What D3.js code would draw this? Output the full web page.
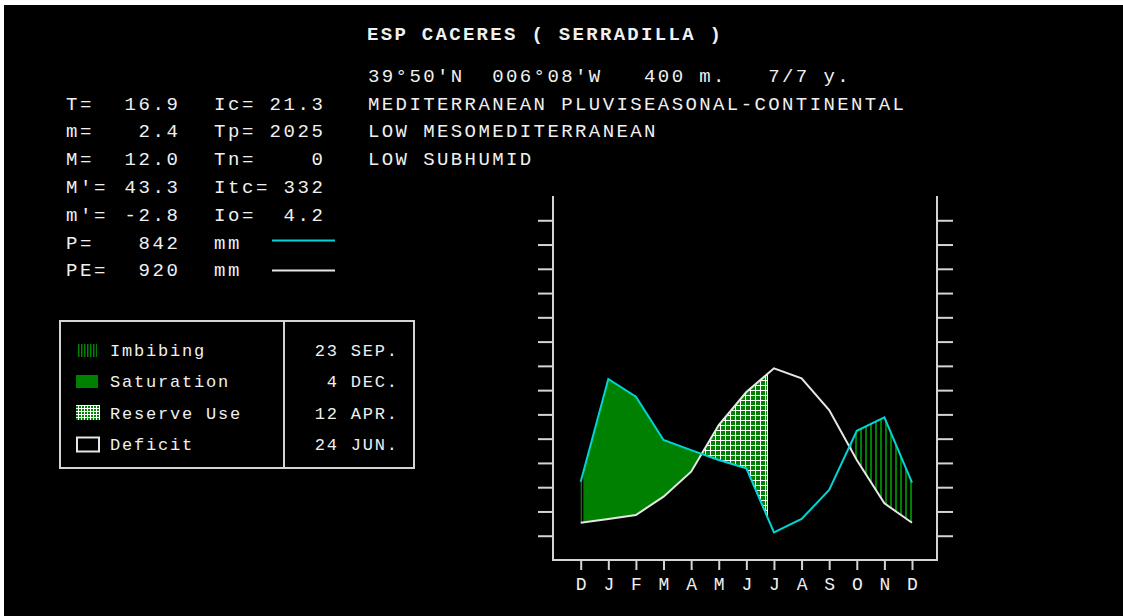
<!DOCTYPE html>
<html><head><meta charset="utf-8">
<script src="https://cdn.jsdelivr.net/npm/d3@7"></script>
<style>
html,body{margin:0;padding:0;background:#fff;overflow:hidden}
text{font-family:"Liberation Mono","DejaVu Sans Mono",monospace;fill:#f0f0f0}
</style>
</head><body>
<svg id="c" width="1123" height="616"></svg>
<script>
// ---------- data ----------
const months = ["D","J","F","M","A","M","J","J","A","S","O","N","D"];
const precip = [64.5,149.2,134.6,98.9,90.6,82.4,75.6,22.8,33.8,57.7,106.5,117.6,63.7];   // P (mm)
const evapo  = [30.7,33.8,37.1,52.2,72.8,111.2,138.4,158.0,149.7,123.6,82.4,46.7,30.7]; // PE (mm)
const yTicks = [20,40,60,80,100,120,140,160,180,200,220,240,260,280];
const title = "ESP CACERES ( SERRADILLA )";
const headerLines = ["39°50'N  006°08'W   400 m.   7/7 y.",
  "MEDITERRANEAN PLUVISEASONAL-CONTINENTAL",
  "LOW MESOMEDITERRANEAN",
  "LOW SUBHUMID"];
const statLabels1 = ["T=","m=","M=","M'=","m'=","P=","PE="];
const statValues1 = ["16.9","2.4","12.0","43.3","-2.8","842","920"];
const statLabels2 = ["Ic=","Tp=","Tn=","Itc=","Io=","mm","mm"];
const statValues2 = ["21.3","2025","0","332","4.2","",""];
const periodNames = ["Imbibing","Saturation","Reserve Use","Deficit"];
const periodDates = ["23 SEP.","4 DEC.","12 APR.","24 JUN."];
const periodMonth = [9,0,4,6];      // index on the D..D axis
const periodDay   = [23,4,12,24];
const periodLen   = [30,31,30,30];

// ---------- setup ----------
const GREEN = "#008000", CYAN = "#00d4d4", WHITE = "#e6e6e6", FRAME = "#d4d4d4";
const svg = d3.select("#c");
svg.append("rect").attr("x",4).attr("y",5).attr("width",1119).attr("height",611).attr("fill","#000");

const defs = svg.append("defs");
const pStripe = defs.append("pattern").attr("id","stripe").attr("patternUnits","userSpaceOnUse")
  .attr("width",5).attr("height",5);
pStripe.append("rect").attr("width",5).attr("height",5).attr("fill","#000");
pStripe.append("rect").attr("x",0).attr("width",2).attr("height",5).attr("fill",GREEN);
const pGrid = defs.append("pattern").attr("id","grid").attr("patternUnits","userSpaceOnUse")
  .attr("width",5).attr("height",5);
pGrid.append("rect").attr("width",5).attr("height",5).attr("fill","#fff");
pGrid.append("rect").attr("x",1).attr("y",1).attr("width",4).attr("height",4).attr("fill",GREEN);
const pStripeS = defs.append("pattern").attr("id","stripeS").attr("patternUnits","userSpaceOnUse")
  .attr("width",3).attr("height",3);
pStripeS.append("rect").attr("width",3).attr("height",3).attr("fill","#000");
pStripeS.append("rect").attr("width",1.5).attr("height",3).attr("fill",GREEN);
const pGridS = defs.append("pattern").attr("id","gridS").attr("patternUnits","userSpaceOnUse")
  .attr("width",3).attr("height",3);
pGridS.append("rect").attr("width",3).attr("height",3).attr("fill","#fff");
pGridS.append("rect").attr("x",1).attr("y",1).attr("width",2).attr("height",2).attr("fill",GREEN);

// ---------- scales ----------
const x = d3.scaleLinear().domain([0,12]).range([580.7,912]);
const y = d3.scaleLinear().domain([0,300]).range([560,196]);
const frameL = 553, frameR = 937, frameT = 196, frameB = 560;

function val(arr,t){const i=Math.min(Math.floor(t),11);const f=t-i;return arr[i]*(1-f)+arr[i+1]*f;}
function segment(a,b){
  const ts=[a];for(let i=Math.ceil(a);i<b;i++){if(i>a)ts.push(i);}ts.push(b);
  return ts.map(t=>({t,p:val(precip,t),e:val(evapo,t)}));
}
const evIdx = periodNames.map((n,i)=>periodMonth[i]+(periodDay[i]-1)/periodLen[i]);
const area = d3.area().x(d=>x(d.t)).y0(d=>y(d.e)).y1(d=>y(d.p));

const plot = svg.append("g");
plot.append("path").attr("d",area(segment(0,evIdx[1]))).attr("fill","url(#stripe)");
plot.append("path").attr("d",area(segment(evIdx[0],12))).attr("fill","url(#stripe)");
plot.append("path").attr("d",area(segment(evIdx[1],evIdx[2]))).attr("fill",GREEN);
plot.append("path").attr("d",area(segment(evIdx[2],evIdx[3]))).attr("fill","url(#grid)")
  .attr("stroke","#fff").attr("stroke-width",1);

const line = d3.line().x((d,i)=>x(i)).y(d=>y(d));
plot.append("path").attr("d",line(evapo)).attr("fill","none").attr("stroke",WHITE).attr("stroke-width",2);
plot.append("path").attr("d",line(precip)).attr("fill","none").attr("stroke",CYAN).attr("stroke-width",2);

// ---------- axes ----------
const axL = svg.append("g").attr("transform",`translate(${frameL},0)`)
  .call(d3.axisLeft(y).tickValues(yTicks).tickSize(15).tickFormat(""));
const axR = svg.append("g").attr("transform",`translate(${frameR},0)`)
  .call(d3.axisRight(y).tickValues(yTicks).tickSize(16).tickFormat(""));
const axB = svg.append("g").attr("transform",`translate(0,${frameB})`)
  .call(d3.axisBottom(x).tickValues(d3.range(13)).tickSize(10).tickPadding(9).tickFormat(i=>months[i]));
[axL,axR,axB].forEach(g=>{
  g.select(".domain").remove();
  g.selectAll("line").attr("stroke",FRAME).attr("stroke-width",2);
});
axB.selectAll("text").attr("fill","#f0f0f0").attr("font-size",18).attr("font-family",null)
  .attr("dy",null).attr("y",30);
svg.append("path").attr("d",`M${frameL},${frameT}V${frameB}H${frameR}V${frameT}`)
  .attr("fill","none").attr("stroke",FRAME).attr("stroke-width",2);

// ---------- texts ----------
const LS = 2.6;
svg.append("text").attr("x",367).attr("y",40).attr("font-size",19).attr("font-weight","bold")
  .attr("letter-spacing",2.3).attr("xml:space","preserve").text(title);
headerLines.forEach((s,i)=>svg.append("text").attr("x",368).attr("y",81.7+27.8*i)
  .attr("font-size",19).attr("letter-spacing",2.4).attr("xml:space","preserve").text(s));
statLabels1.forEach((s,i)=>{
  const by = 109.5+27.8*i;
  svg.append("text").attr("x",66).attr("y",by).attr("font-size",19).attr("letter-spacing",LS).text(s);
  svg.append("text").attr("x",178+LS).attr("y",by).attr("font-size",19).attr("letter-spacing",LS)
    .attr("text-anchor","end").text(statValues1[i]);
  svg.append("text").attr("x",214).attr("y",by).attr("font-size",19).attr("letter-spacing",LS).text(statLabels2[i]);
  if(statValues2[i]) svg.append("text").attr("x",323+LS).attr("y",by).attr("font-size",19)
    .attr("letter-spacing",LS).attr("text-anchor","end").text(statValues2[i]);
});
svg.append("line").attr("x1",272).attr("x2",335).attr("y1",240.5).attr("y2",240.5).attr("stroke",CYAN).attr("stroke-width",2);
svg.append("line").attr("x1",272).attr("x2",335).attr("y1",270.5).attr("y2",270.5).attr("stroke",WHITE).attr("stroke-width",2);

// ---------- legend ----------
const lg = svg.append("g");
lg.append("rect").attr("x",60).attr("y",321).attr("width",354).attr("height",147)
  .attr("fill","none").attr("stroke",FRAME).attr("stroke-width",2);
lg.append("line").attr("x1",284).attr("x2",284).attr("y1",321).attr("y2",468).attr("stroke",FRAME).attr("stroke-width",2);
const rowC = [350,381,412.5,444];
lg.append("rect").attr("x",77).attr("y",344).attr("width",20).attr("height",13).attr("fill","url(#stripeS)");
lg.append("rect").attr("x",76).attr("y",375).attr("width",22).attr("height",13).attr("fill",GREEN);
lg.append("rect").attr("x",76).attr("y",405).attr("width",24).attr("height",15).attr("fill","url(#gridS)");
lg.append("rect").attr("x",77).attr("y",437.5).attr("width",22).attr("height",14)
  .attr("fill","none").attr("stroke",WHITE).attr("stroke-width",2);
periodNames.forEach((n,i)=>{
  lg.append("text").attr("x",110).attr("y",rowC[i]+6).attr("font-size",17).attr("letter-spacing",1.8).text(n);
  lg.append("text").attr("x",397+1.8).attr("y",rowC[i]+6).attr("font-size",17).attr("letter-spacing",1.8)
    .attr("text-anchor","end").text(periodDates[i]);
});
</script>
</body></html>
